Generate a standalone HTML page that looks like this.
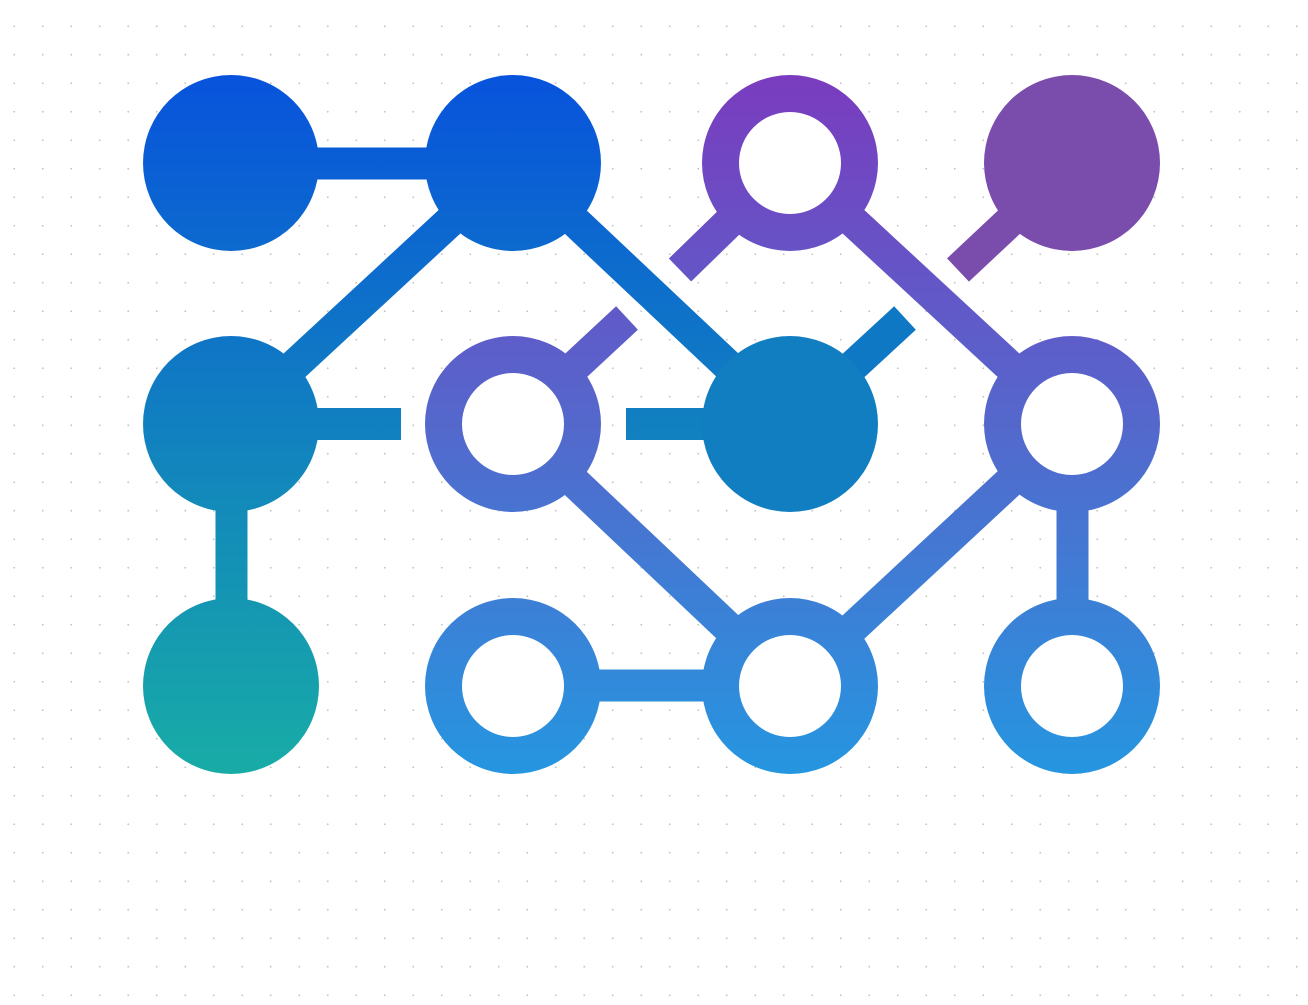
<!DOCTYPE html>
<html><head><meta charset="utf-8"><style>
html,body{margin:0;padding:0;width:1308px;height:1005px;overflow:hidden;background:#fff;}
body{background-image:radial-gradient(circle,#c4c4c4 0.7px,transparent 1.1px);background-size:28.5px 28.5px;background-position:0px 12px;}
svg{position:absolute;left:0;top:0;}
</style></head><body>
<svg width="1308" height="1005" viewBox="0 0 1308 1005">
<defs>
<linearGradient id="ga" gradientUnits="userSpaceOnUse" x1="0" y1="75" x2="0" y2="775">
<stop offset="0" stop-color="#0853dc"/><stop offset="0.5" stop-color="#1180c0"/><stop offset="1" stop-color="#18aca6"/>
</linearGradient>
<linearGradient id="gb" gradientUnits="userSpaceOnUse" x1="0" y1="75" x2="0" y2="775">
<stop offset="0" stop-color="#7a3cbf"/><stop offset="0.5" stop-color="#5468cc"/><stop offset="1" stop-color="#2596e0"/>
</linearGradient>
</defs>
<g stroke="url(#ga)" stroke-width="32" fill="none">
<line x1="300" y1="163.5" x2="440" y2="163.5"/>
<line x1="513" y1="163" x2="231" y2="424"/>
<line x1="513" y1="163" x2="790" y2="424"/>
<line x1="231" y1="424" x2="401" y2="424"/>
<line x1="626" y1="424" x2="790" y2="424"/>
<line x1="231.5" y1="424" x2="231.5" y2="686"/>
<line x1="790" y1="424" x2="905" y2="318" stroke="#0f78c4"/>
</g>
<g fill="url(#ga)">
<circle cx="231" cy="163" r="88"/>
<circle cx="513" cy="163" r="88"/>
<circle cx="231" cy="424" r="88"/>
<circle cx="231" cy="686" r="88"/>
</g>
<g stroke="url(#gb)" stroke-width="32" fill="none">
<line x1="790" y1="163" x2="680" y2="270"/>
<line x1="1072" y1="163" x2="958" y2="270" stroke="#7a4dad"/>
<line x1="790" y1="163" x2="1072" y2="424"/>
<line x1="513" y1="424" x2="627" y2="318"/>
<line x1="513" y1="424" x2="790" y2="686"/>
<line x1="1072" y1="424" x2="790" y2="686"/>
<line x1="1072.5" y1="424" x2="1072.5" y2="686"/>
<line x1="513" y1="685.5" x2="790" y2="685.5"/>
</g>
<g fill="#fff">
<circle cx="790" cy="163" r="52"/>
<circle cx="513" cy="424" r="52"/>
<circle cx="1072" cy="424" r="52"/>
<circle cx="513" cy="686" r="52"/>
<circle cx="790" cy="686" r="52"/>
<circle cx="1072" cy="686" r="52"/>
</g>
<circle cx="790" cy="424" r="88" fill="#117ec2"/>
<circle cx="1072" cy="163" r="88" fill="#7a4dad"/>
<g fill="url(#gb)" fill-rule="evenodd">
<path d="M702,163a88,88 0 1,0 176,0a88,88 0 1,0 -176,0z M739,163a51,51 0 1,0 102,0a51,51 0 1,0 -102,0z"/>
<path d="M425,424a88,88 0 1,0 176,0a88,88 0 1,0 -176,0z M462,424a51,51 0 1,0 102,0a51,51 0 1,0 -102,0z"/>
<path d="M984,424a88,88 0 1,0 176,0a88,88 0 1,0 -176,0z M1021,424a51,51 0 1,0 102,0a51,51 0 1,0 -102,0z"/>
<path d="M425,686a88,88 0 1,0 176,0a88,88 0 1,0 -176,0z M462,686a51,51 0 1,0 102,0a51,51 0 1,0 -102,0z"/>
<path d="M702,686a88,88 0 1,0 176,0a88,88 0 1,0 -176,0z M739,686a51,51 0 1,0 102,0a51,51 0 1,0 -102,0z"/>
<path d="M984,686a88,88 0 1,0 176,0a88,88 0 1,0 -176,0z M1021,686a51,51 0 1,0 102,0a51,51 0 1,0 -102,0z"/>
</g>
</svg>
</body></html>
